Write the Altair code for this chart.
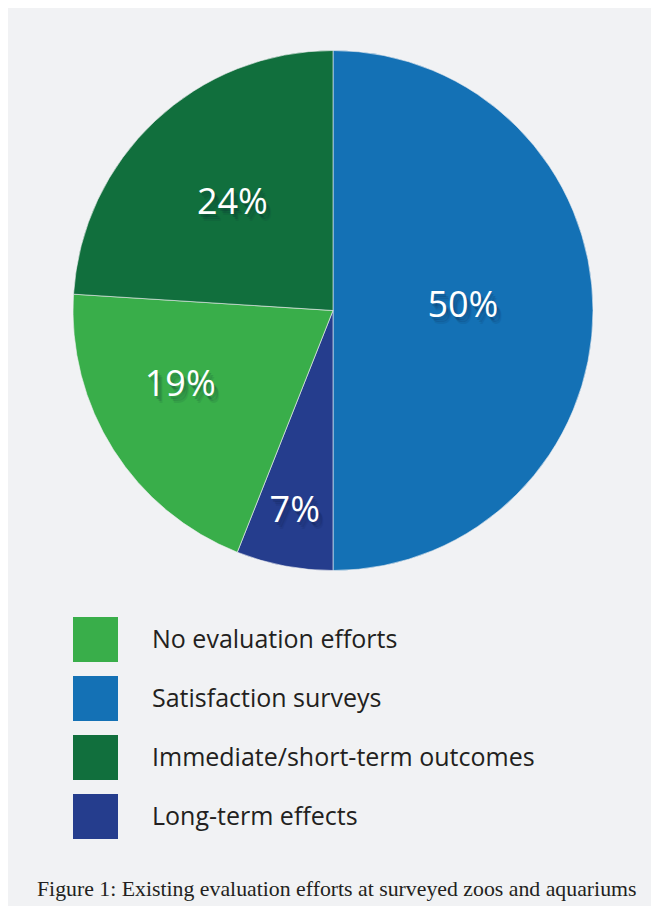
import altair as alt
import pandas as pd

# ---- data ----
categories = ["Satisfaction surveys", "Long-term effects", "No evaluation efforts", "Immediate/short-term outcomes"]
shares = [50, 6, 20, 24]          # slice sizes as drawn (clockwise from 12 o'clock)
labels = ["50%", "7%", "19%", "24%"]
legend_order = ["No evaluation efforts", "Satisfaction surveys", "Immediate/short-term outcomes", "Long-term effects"]
legend_colors = ["#39ae4a", "#1471b5", "#116f3d", "#253d8d"]
caption = "Figure 1: Existing evaluation efforts at surveyed zoos and aquariums"

df = pd.DataFrame({
    "category": categories,
    "share": shares,
    "label": labels,
    "order": list(range(len(categories))),
})

# ---- layout / style ----
W, H = 643, 898
CX, CY = 325, 302.5
R = 260
BG = "#f1f2f4"
TEXT = "#231f20"
SANS = "Open Sans"

radius_expr = ("datum.label == '50%' ? 130 : datum.label == '7%' ? 204 : "
               "datum.label == '19%' ? 170 : 147")
adj_expr = ("datum.label == '50%' ? -2 : datum.label == '19%' ? 6.4 : 0")

pie = alt.Chart(df).mark_arc(radius=R, stroke=BG, strokeWidth=0.6).encode(
    theta=alt.Theta("share:Q", stack=True),
    order=alt.Order("order:Q"),
    color=alt.Color(
        "category:N",
        scale=alt.Scale(domain=legend_order, range=legend_colors),
        legend=alt.Legend(
            orient="none", legendX=65, legendY=609, title=None,
            symbolType="square", symbolSize=45 * 45, symbolStrokeWidth=0,
            symbolOpacity=1, labelFontSize=25, labelFont=SANS,
            labelColor=TEXT, labelOffset=34, rowPadding=14, padding=0,
            labelLimit=600,
        ),
    ),
    x=alt.value(CX),
    y=alt.value(CY),
)

lab_base = alt.Chart(df).transform_window(
    cum="sum(share)", sort=[alt.SortField("order")], frame=[None, 0]
).transform_calculate(
    mid=f"(datum.cum - datum.share / 2) / 100 * 2 * PI + ({adj_expr}) * PI / 180",
    r=radius_expr,
)

def label_layer(color, opacity, dx, dy):
    return lab_base.mark_text(
        font=SANS, fontSize=36, color=color, opacity=opacity,
        align="center", baseline="middle", dx=dx, dy=dy,
    ).encode(
        theta=alt.Theta("mid:Q", scale=None, stack=None),
        radius=alt.Radius("r:Q", scale=None),
        text="label:N",
        x=alt.value(CX),
        y=alt.value(CY),
    )

shadows = [label_layer("#06122e", 0.16, 2, 3), label_layer("#06122e", 0.12, 4, 5),
           label_layer("#06122e", 0.08, 5, 7)]
labels_layer = label_layer("white", 1, 0, 0)

cap = alt.Chart(pd.DataFrame({"caption": [caption]})).mark_text(
    align="left", baseline="alphabetic", font="Liberation Serif",
    fontSize=21.8, color=TEXT,
).encode(x=alt.value(29), y=alt.value(888), text="caption:N")

chart = alt.layer(pie, *shadows, labels_layer, cap).properties(
    width=W, height=H, padding=0,
    autosize=alt.AutoSizeParams(type="none"),
    background=BG,
).configure_view(stroke=None)

chart.save("out.html", embed_options={"renderer": "svg", "actions": False})
